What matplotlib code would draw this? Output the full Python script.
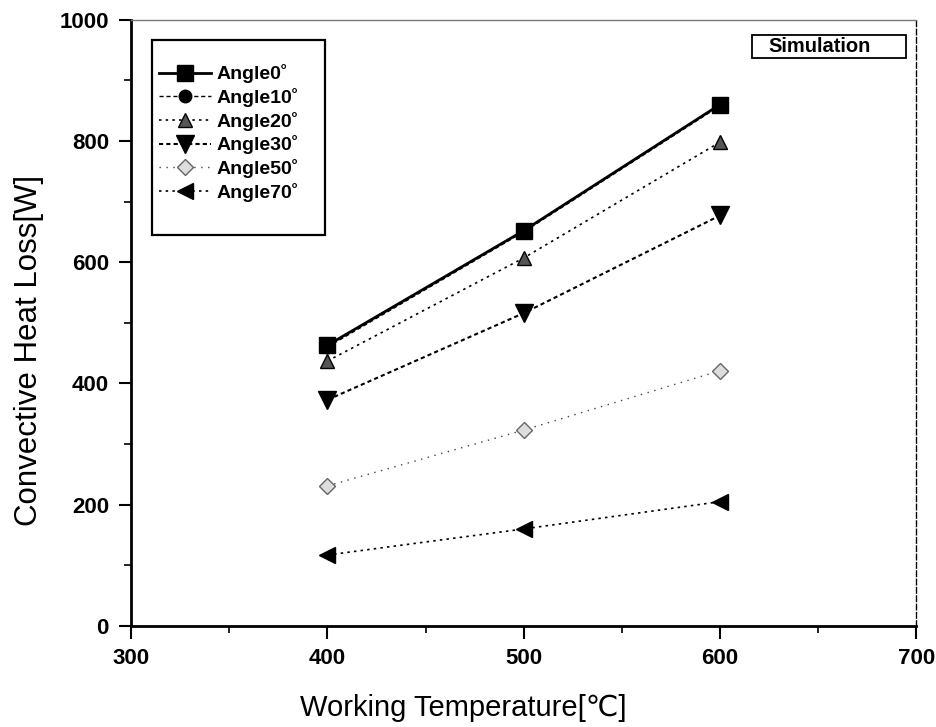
import matplotlib.pyplot as plt
from matplotlib.patches import Rectangle
from matplotlib.ticker import MultipleLocator

plt.rcParams['font.family'] = ['Liberation Sans', 'DejaVu Sans']

temps = [400, 500, 600]
angle0 = [463, 652, 860]
angle10 = [460, 650, 858]
angle20 = [437, 607, 798]
angle30 = [373, 516, 677]
angle50 = [231, 323, 421]
angle70 = [117, 160, 205]

fig = plt.figure(figsize=(9.37, 7.27), dpi=100)
ax = fig.add_axes([0.140, 0.139, 0.838, 0.834])

ax.plot(temps, angle0, color='black', ls='-', lw=2.0, marker='s', ms=11, label='Angle0˚')
ax.plot(temps, angle10, color='black', ls=(0, (3, 2)), lw=1.0, marker='o', ms=9, label='Angle10˚')
ax.plot(temps, angle20, color='black', ls=(0, (1.5, 2.5)), lw=1.2, marker='^', ms=10,
        mfc='#555555', mec='black', label='Angle20˚')
ax.plot(temps, angle30, color='black', ls=(0, (2, 1.5)), lw=1.5, marker='v', ms=13, label='Angle30˚')
ax.plot(temps, angle50, color='#444444', ls=(0, (1, 4)), lw=1.0, marker='D', ms=8,
        mfc='#dddddd', mec='#666666', label='Angle50˚')
ax.plot(temps, angle70, color='black', ls=(0, (1.5, 2.5)), lw=1.2, marker='<', ms=11, label='Angle70˚')

ax.set_xlim(300, 700)
ax.set_ylim(0, 1000)
ax.xaxis.set_major_locator(MultipleLocator(100))
ax.xaxis.set_minor_locator(MultipleLocator(50))
ax.yaxis.set_major_locator(MultipleLocator(200))
ax.yaxis.set_minor_locator(MultipleLocator(100))
ax.tick_params(which='major', direction='out', length=9, width=1.5, labelsize=16, pad=7)
ax.tick_params(which='minor', direction='out', length=5, width=1.2)
for lab in ax.get_xticklabels() + ax.get_yticklabels():
    lab.set_fontweight('bold')

ax.spines['left'].set_linewidth(2)
ax.spines['bottom'].set_linewidth(2)
ax.spines['top'].set_linewidth(1)
ax.spines['top'].set_color('#777777')
ax.spines['right'].set_linewidth(1)
ax.spines['right'].set_linestyle((0, (4, 2)))

ax.set_xlabel('Working Temperature[℃]', fontsize=21)
ax.set_ylabel('Convective Heat Loss[W]', fontsize=22.5)
ax.xaxis.set_label_coords(0.423, -0.112)
ax.yaxis.set_label_coords(-0.111, 0.455)

# legend box
ax.add_patch(Rectangle((0.027, 0.645), 0.220, 0.322, transform=ax.transAxes,
                       fill=True, fc='white', ec='black', lw=1.6, zorder=4))
leg = ax.legend(loc='upper left', bbox_to_anchor=(0.035, 0.926), frameon=False,
                borderpad=0, borderaxespad=0, handlelength=2.7,
                labelspacing=0.24, handletextpad=0.3,
                prop={'weight': 'bold', 'size': 14})
leg.set_zorder(5)

# "Simulation" box
ax.add_patch(Rectangle((0.791, 0.937), 0.196, 0.038, transform=ax.transAxes,
                       fill=True, fc='white', ec='black', lw=1.3, zorder=4))
ax.text(0.811, 0.956, 'Simulation', transform=ax.transAxes, ha='left', va='center',
        fontsize=14.5, fontweight='bold', zorder=5)

fig.savefig('out.png', dpi=100)
